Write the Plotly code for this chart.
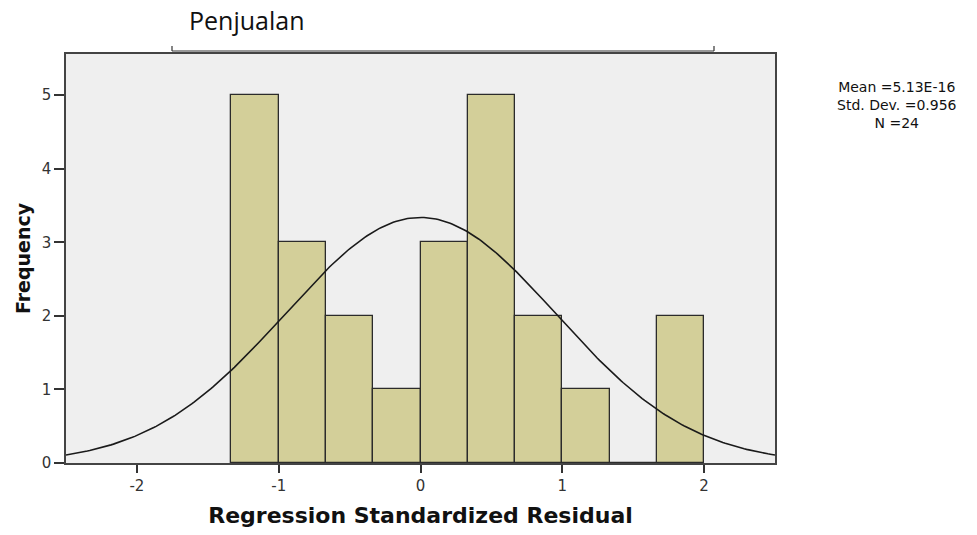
import numpy as np
import plotly.graph_objects as go

# Data
bin_centers = [-7/6, -5/6, -3/6, -1/6, 1/6, 3/6, 5/6, 7/6, 9/6, 11/6]
counts = [5, 3, 2, 1, 3, 5, 2, 1, 0, 2]
bin_width = 1/3
mean_val = 5.13e-16
std_dev = 0.956
n_obs = 24
x_ticks = [-2, -1, 0, 1, 2]
y_ticks = [0, 1, 2, 3, 4, 5]
stats_lines = ["Mean =5.13E-16", "Std. Dev. =0.956", "N =24"]

# Normal curve from the stated mean / sd / N
xc = np.linspace(-2.5, 2.5, 300)
yc = n_obs * bin_width * np.exp(-0.5 * ((xc - mean_val) / std_dev) ** 2) / (std_dev * np.sqrt(2 * np.pi))

fig = go.Figure()
fig.add_trace(go.Bar(
    x=bin_centers, y=counts, width=bin_width,
    marker=dict(color="#D3CF99", line=dict(color="#2b2b2b", width=1.3)),
    showlegend=False, hoverinfo="x+y",
))
fig.add_trace(go.Scatter(
    x=xc, y=yc, mode="lines", line=dict(color="#1a1a1a", width=1.6),
    showlegend=False, hoverinfo="skip",
))

W, H = 977, 535
ml, mr, mt, mb = 66, 202, 54, 72
ph = H - mt - mb
pw = W - ml - mr

def px_x(p):
    return (p - ml) / pw

def px_y(p):
    return 1 - (p - mt) / ph

# bracket above the plot
shapes = [
    dict(type="line", xref="paper", yref="paper", x0=px_x(172), x1=px_x(714), y0=px_y(51), y1=px_y(51),
         line=dict(color="#333333", width=1.2)),
    dict(type="line", xref="paper", yref="paper", x0=px_x(172), x1=px_x(172), y0=px_y(46), y1=px_y(51),
         line=dict(color="#333333", width=1.2)),
    dict(type="line", xref="paper", yref="paper", x0=px_x(714), x1=px_x(714), y0=px_y(46), y1=px_y(51),
         line=dict(color="#333333", width=1.2)),
]

annotations = [
    dict(text="Penjualan", xref="paper", yref="paper", x=px_x(187), y=px_y(20),
         xanchor="left", yanchor="middle", showarrow=False,
         font=dict(family="Open Sans, Noto Sans", size=25, color="#111111")),
    dict(text="<br>".join(stats_lines), xref="paper", yref="paper", x=px_x(897), y=px_y(105),
         xanchor="center", yanchor="middle", showarrow=False, align="center",
         font=dict(family="DejaVu Sans, Liberation Sans", size=14, color="#111111")),
]

fig.update_layout(
    width=W, height=H,
    margin=dict(l=ml, r=mr, t=mt, b=mb),
    paper_bgcolor="white", plot_bgcolor="#EFEFEF",
    bargap=0,
    shapes=shapes,
    font=dict(family="DejaVu Sans, Liberation Sans", size=15, color="#333333"),
    annotations=annotations,
    xaxis=dict(
        range=[-2.5, 2.5], tickvals=x_ticks, ticktext=[str(v) for v in x_ticks],
        ticks="outside", ticklen=8, tickcolor="#333333", tickwidth=1.5,
        showgrid=False, zeroline=False,
        showline=True, mirror=True, linecolor="#444444", linewidth=1.6,
        title=dict(text="<b>Regression Standardized Residual</b>", standoff=14,
                   font=dict(family="DejaVu Sans, Liberation Sans", size=22, color="#111111")),
        tickfont=dict(size=15, color="#333333"),
    ),
    yaxis=dict(
        range=[0, 5.56], tickvals=y_ticks,
        ticks="outside", ticklen=10, tickcolor="#333333", tickwidth=1.5,
        showgrid=False, zeroline=False,
        showline=True, mirror=True, linecolor="#444444", linewidth=1.6,
        title=dict(text="<b>Frequency</b>", standoff=6,
                   font=dict(family="DejaVu Sans, Liberation Sans", size=19, color="#111111")),
        tickfont=dict(size=15, color="#333333"),
    ),
)

fig.write_html("out.html", config={"displayModeBar": False},
               post_script="document.body.style.margin='0';")
